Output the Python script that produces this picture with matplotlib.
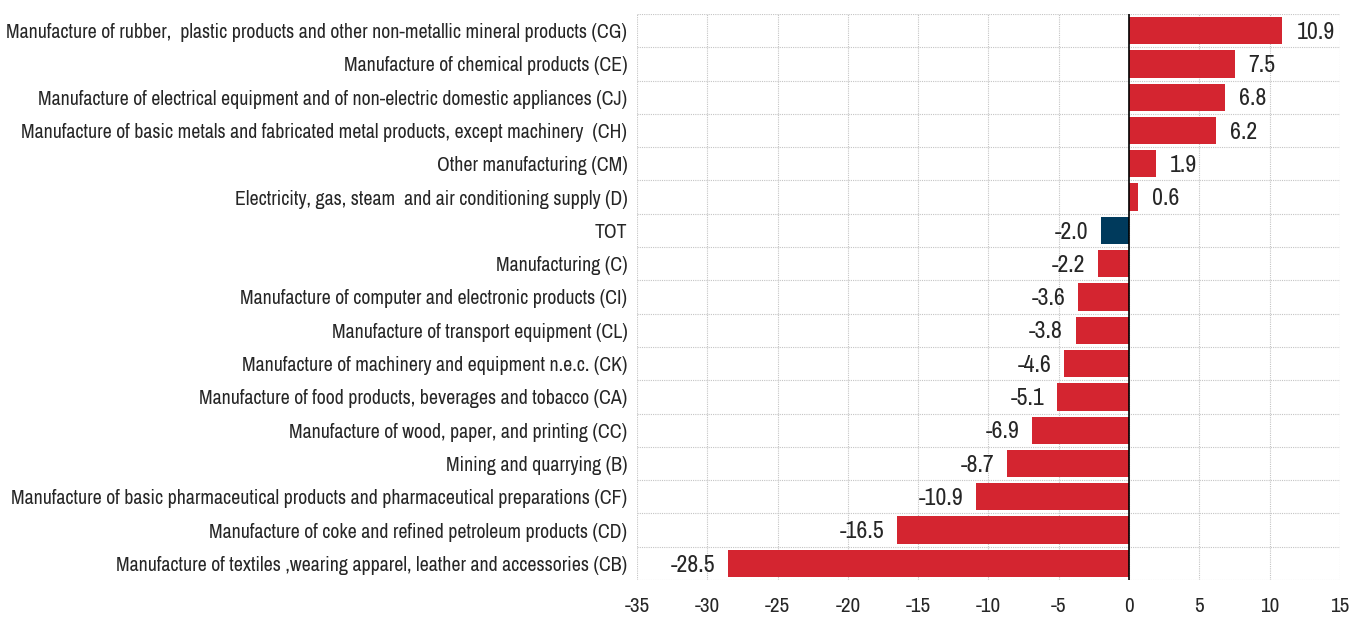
import matplotlib
matplotlib.use("Agg")
import matplotlib.pyplot as plt
from matplotlib import font_manager

categories = [
    "Manufacture of rubber,  plastic products and other non-metallic mineral products (CG)",
    "Manufacture of chemical products (CE)",
    "Manufacture of electrical equipment and of non-electric domestic appliances (CJ)",
    "Manufacture of basic metals and fabricated metal products, except machinery  (CH)",
    "Other manufacturing (CM)",
    "Electricity, gas, steam  and air conditioning supply (D)",
    "TOT",
    "Manufacturing (C)",
    "Manufacture of computer and electronic products (CI)",
    "Manufacture of transport equipment (CL)",
    "Manufacture of machinery and equipment n.e.c. (CK)",
    "Manufacture of food products, beverages and tobacco (CA)",
    "Manufacture of wood, paper, and printing (CC)",
    "Mining and quarrying (B)",
    "Manufacture of basic pharmaceutical products and pharmaceutical preparations (CF)",
    "Manufacture of coke and refined petroleum products (CD)",
    "Manufacture of textiles ,wearing apparel, leather and accessories (CB)",
]
values = [10.9, 7.5, 6.8, 6.2, 1.9, 0.6, -2.0, -2.2, -3.6, -3.8, -4.6, -5.1, -6.9, -8.7, -10.9, -16.5, -28.5]
x_ticks = [-35, -30, -25, -20, -15, -10, -5, 0, 5, 10, 15]

# look for a narrow font file
narrow = None
cands = []
for f in font_manager.fontManager.ttflist:
    p = f.fname.lower()
    if ("narrow" in p or "condensed" in p) and "bold" not in p and "italic" not in p and "oblique" not in p:
        cands.append(f.fname)
for key in ["liberationsansnarrow-regular", "narrow", "robotocondensed-regular", "dejavusanscondensed.ttf", "condensed"]:
    for c in cands:
        if key in c.lower().replace(" ", ""):
            narrow = c
            break
    if narrow:
        break

plt.rcParams["font.family"] = ["Liberation Sans", "DejaVu Sans"]
if narrow:
    def fp(size):
        return font_manager.FontProperties(fname=narrow, size=size)
else:
    def fp(size):
        return font_manager.FontProperties(family=["Liberation Sans", "DejaVu Sans"], size=size * 0.85)

RED = "#D42530"
BLUE = "#003A5C"

fig = plt.figure(figsize=(13.54, 6.17), dpi=100)
ax = fig.add_axes([637/1354, 1-580/617, (1340-637)/1354, (580-14)/617])

n = len(categories)
ypos = list(range(n))[::-1]
colors = [BLUE if c == "TOT" else RED for c in categories]
ax.barh(ypos, values, height=0.82, color=colors, zorder=3)

for y, v in zip(ypos, values):
    if v >= 0:
        ax.text(v + 1.0, y - 0.05, f"{v:.1f}", ha="left", va="center", fontproperties=fp(17.2), color="#262626", zorder=4)
    else:
        ax.text(v - 0.9, y - 0.05, f"{v:.1f}", ha="right", va="center", fontproperties=fp(17.2), color="#262626", zorder=4)

ax.set_xlim(-35, 15)
ax.set_ylim(-0.5, n - 0.5)
ax.set_xticks(x_ticks)
ax.set_xticklabels([str(t) for t in x_ticks], fontproperties=fp(15.2), color="#262626")
ax.set_yticks(ypos)
ax.set_yticklabels(categories, fontproperties=fp(14.3), color="#262626")
ax.set_yticks([i - 0.5 for i in range(n + 1)], minor=True)
ax.tick_params(axis="both", which="both", length=0)
ax.tick_params(axis="y", pad=7)
ax.tick_params(axis="x", pad=12)

ax.grid(axis="x", which="major", color="#C4C4C4", linestyle=(0, (1, 1)), linewidth=0.8, zorder=0)
ax.grid(axis="y", which="minor", color="#C4C4C4", linestyle=(0, (1, 1)), linewidth=0.8, zorder=0)
for s in ax.spines.values():
    s.set_visible(False)
ax.axvline(0, color="black", linewidth=1.2, zorder=5)

fig.savefig("out.png", dpi=100)
